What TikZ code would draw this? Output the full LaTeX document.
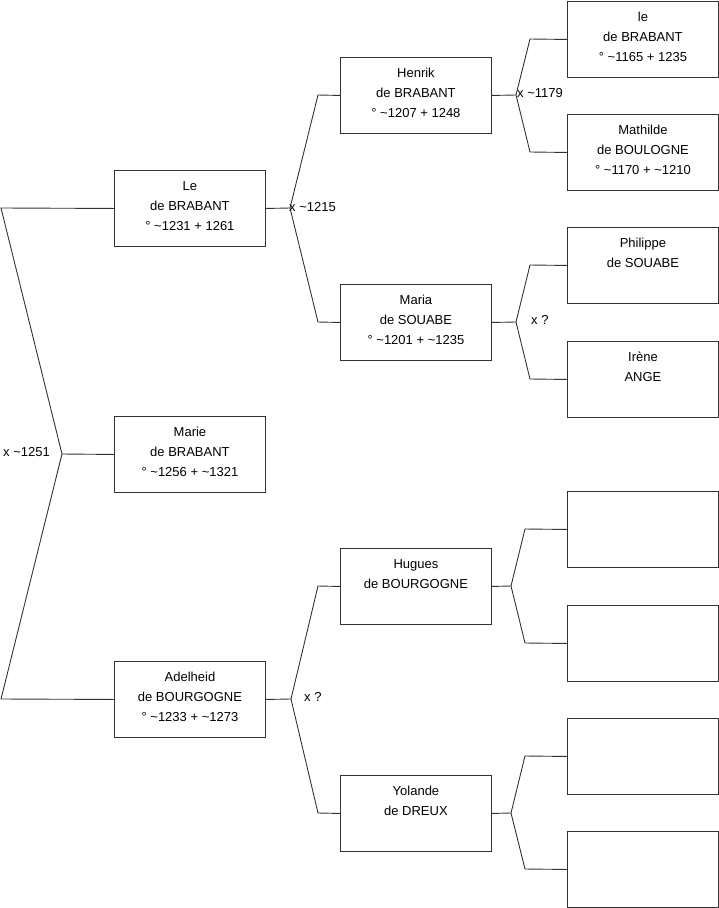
\documentclass[tikz,border=0pt]{standalone}
\usepackage{fontspec}
\setmainfont{Liberation Sans}
\tikzset{
  person/.style={draw=black!80, line width=0.9pt, minimum width=151pt, minimum height=76pt,
    inner sep=0pt, anchor=north west, font=\fontsize{13}{20}\selectfont},
  link/.style={draw=black!80, line width=0.9pt},
  marr/.style={anchor=west, inner sep=0pt, font=\fontsize{13}{15}\selectfont}
}
\newcommand{\pbox}[1]{\parbox[c][76pt][t]{151pt}{\centering\rule{0pt}{20pt}#1\par}}
\begin{document}
\begin{tikzpicture}[x=1pt,y=-1pt]
\useasboundingbox (0,0) rectangle (719,908);
% generation 1
\node[person] (le) at (114,170) {\pbox{Le\\de BRABANT\\° \textasciitilde1231 + 1261}};
\node[person] (marie) at (114,416) {\pbox{Marie\\de BRABANT\\° \textasciitilde1256 + \textasciitilde1321}};
\node[person] (adel) at (114,661) {\pbox{Adelheid\\de BOURGOGNE\\° \textasciitilde1233 + \textasciitilde1273}};
% generation 2
\node[person] (henrik) at (340,57) {\pbox{Henrik\\de BRABANT\\° \textasciitilde1207 + 1248}};
\node[person] (maria) at (340,284) {\pbox{Maria\\de SOUABE\\° \textasciitilde1201 + \textasciitilde1235}};
\node[person] (hugues) at (340,548) {\pbox{Hugues\\de BOURGOGNE}};
\node[person] (yolande) at (340,775) {\pbox{Yolande\\de DREUX}};
% generation 3
\node[person] (leb) at (567,1) {\pbox{le\\de BRABANT\\° \textasciitilde1165 + 1235}};
\node[person] (math) at (567,114) {\pbox{Mathilde\\de BOULOGNE\\° \textasciitilde1170 + \textasciitilde1210}};
\node[person] (phil) at (567,227) {\pbox{Philippe\\de SOUABE}};
\node[person] (irene) at (567,341) {\pbox{Irène\\ANGE}};
\node[person] (e1) at (567,491) {\pbox{}};
\node[person] (e2) at (567,605) {\pbox{}};
\node[person] (e3) at (567,718) {\pbox{}};
\node[person] (e4) at (567,831) {\pbox{}};
% fork coordinates
\coordinate (a1) at (1,208);
\coordinate (a2) at (62,454);
\coordinate (a3) at (1,699);
\coordinate (b0) at (290,208);
\coordinate (b1) at (318,95);
\coordinate (b2) at (318,322);
\coordinate (c0) at (516,95);
\coordinate (c1) at (530,39);
\coordinate (c2) at (530,152);
\coordinate (d0) at (516,322);
\coordinate (d1) at (530,265);
\coordinate (d2) at (530,379);
\coordinate (f0) at (291,699);
\coordinate (f1) at (318,586);
\coordinate (f2) at (318,813);
\coordinate (g0) at (511,586);
\coordinate (g1) at (525,529);
\coordinate (g2) at (525,643);
\coordinate (h0) at (511,813);
\coordinate (h1) at (525,756);
\coordinate (h2) at (525,869);
% connectors
\draw[link] (le.west) -- (a1) -- (a2) -- (a3) -- (adel.west);
\draw[link] (a2) -- (marie.west);
\draw[link] (le.east) -- (b0);
\draw[link] (henrik.west) -- (b1) -- (b0) -- (b2) -- (maria.west);
\draw[link] (henrik.east) -- (c0);
\draw[link] (leb.west) -- (c1) -- (c0) -- (c2) -- (math.west);
\draw[link] (maria.east) -- (d0);
\draw[link] (phil.west) -- (d1) -- (d0) -- (d2) -- (irene.west);
\draw[link] (adel.east) -- (f0);
\draw[link] (hugues.west) -- (f1) -- (f0) -- (f2) -- (yolande.west);
\draw[link] (hugues.east) -- (g0);
\draw[link] (e1.west) -- (g1) -- (g0) -- (g2) -- (e2.west);
\draw[link] (yolande.east) -- (h0);
\draw[link] (e3.west) -- (h1) -- (h0) -- (h2) -- (e4.west);
% marriage labels
\node[marr] (m1) at (3,452) {x \textasciitilde1251};
\node[marr] (m2) at (289,207) {x \textasciitilde1215};
\node[marr] (m3) at (517,93) {x \textasciitilde1179};
\node[marr] (m4) at (531,320) {x ?};
\node[marr] (m5) at (304,697) {x ?};
\end{tikzpicture}
\end{document}
